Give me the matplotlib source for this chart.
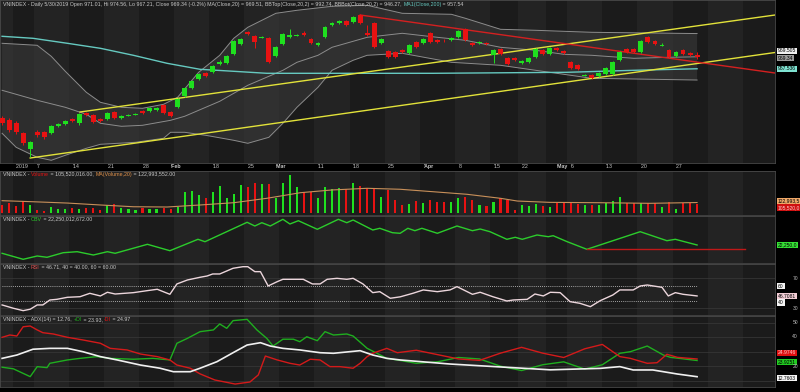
import matplotlib
matplotlib.use("Agg")
import matplotlib.pyplot as plt
import numpy as np

W, H, DPI = 800, 392, 100

# ---------------- candles, Dec 27 2018 .. May 30 2019 ----------------
opens = [908, 906, 903, 893, 877, 894, 894, 893, 900, 902, 907, 903, 913, 911, 907, 907, 914, 908, 910.5, 911.5,
         915, 915, 916, 921, 914, 919, 930, 938, 947, 953, 954, 962, 963, 972, 982, 994, 990, 988.5, 988, 970,
         982, 989, 990.5, 993, 987, 981, 989, 1001, 1003, 1005, 1004, 1011, 993, 1003, 983, 975, 974, 976, 973, 984,
         983, 993, 986, 985.5, 986, 989, 997, 983, 983, 983, 971, 977, 968, 968, 963, 964, 969, 976, 972, 978,
         975, 964, 961, 950.5, 951, 950, 952, 952, 966, 977, 977, 974, 989, 985, 980.5, 976, 970, 976, 973, 971.01]
highs = [910, 908, 905, 894, 885, 896, 895, 901, 903, 906, 908, 913, 914, 912, 908, 914, 915, 911, 912, 913,
         916, 919, 919, 922, 915, 928, 939, 946, 953, 954, 961, 966, 971, 986, 988, 995, 991, 990, 989, 980,
         993, 997, 992, 995, 988, 984, 1000, 1004, 1006, 1006, 1010, 1012, 1001, 1004, 988, 976, 975, 977, 982, 985,
         988, 994, 987, 987, 989, 996, 998, 984, 985, 984, 977, 978, 969, 969, 966, 969, 978, 977, 979, 979,
         976, 965, 962, 952, 952, 954, 959, 965, 975, 978, 978, 986, 990, 986, 983, 977, 975, 977, 974, 974.56]
lows = [901, 894, 892, 881, 869, 889, 887, 892, 899, 901, 904, 901, 910, 903, 904, 906, 907, 907, 910, 911,
        912, 914, 915, 912, 909, 918, 929, 937, 946, 949, 953, 961, 962, 971, 981, 991, 978, 988, 963, 969,
        981, 988, 990, 990, 982, 980, 988, 1000, 1002, 1000, 1003, 1002, 990, 978, 982, 968, 968, 973, 972, 978,
        982, 983, 983, 984, 985, 988, 985, 980, 982, 981, 963, 971, 961, 965, 962, 963, 968, 971, 971, 975,
        972, 957, 956, 950, 947, 949, 951, 951, 965, 973, 973, 973, 983, 981, 980, 968, 969, 971, 970, 967.21]
closes = [903, 896, 894, 883, 884, 891, 889, 900, 902, 905, 905, 912, 911, 904, 905, 913, 908, 910, 911, 912,
          913, 918, 918, 913, 910, 927, 938, 945, 952, 950, 960, 964, 970, 985, 987, 992, 984, 989, 964, 979,
          992, 991, 991, 991, 983, 983, 999, 1003, 1005, 1001, 1009, 1003, 991, 979, 987, 969, 969, 974, 981, 979,
          987, 984, 984, 985, 988, 995, 986, 981, 984, 982, 976, 972, 962, 966, 965, 968, 977, 972, 978, 976,
          973, 958, 957, 951, 948, 953, 958, 964, 974, 974, 974, 985, 984, 982, 981, 969, 974, 972, 971, 969.34]
volumes = [95, 120, 80, 135, 95, 40, 30, 70, 50, 45, 65, 55, 60, 65, 40, 90, 110, 65, 45, 40,
           65, 45, 55, 65, 45, 70, 247, 258, 209, 171, 247, 311, 171, 220, 323, 304, 350, 334, 334, 171,
           350, 437, 296, 247, 247, 171, 296, 274, 285, 274, 342, 312, 285, 274, 190, 266, 152, 95, 106, 144,
           114, 152, 133, 133, 133, 171, 190, 152, 95, 84, 133, 171, 152, 38, 95, 84, 106, 84, 68, 114,
           122, 133, 106, 95, 95, 95, 114, 144, 190, 114, 114, 122, 114, 122, 76, 133, 46, 114, 114, 105.5]  # millions

date_labels = ['2019', '7', '14', '21', '28', 'Feb', '18', '25', 'Mar', '11', '18', '25',
               'Apr', '8', '15', '22', 'May', '6', '13', '20', '27']
date_pos = [2, 5, 10, 15, 20, 24, 30, 35, 39, 45, 50, 55, 60, 65, 70, 74, 79, 81, 86, 91, 96]
week_starts = [-3, 2, 5, 10, 15, 20, 25, 30, 35, 40, 45, 50, 55, 60, 65, 70, 74, 78, 81, 86, 91, 96, 101, 106, 111]

# Bollinger bands / MA lines (sample points: index, price)
bb_up_x = [0, 5, 7, 9, 12, 14, 17, 20, 23, 25, 28, 31, 33, 35, 37, 39, 42, 47, 52, 57, 64, 66, 71, 76, 84, 99]
bb_up = [983, 981, 970, 955, 934, 924, 919, 918, 922, 929, 954, 971, 988, 999, 1006, 1013, 1016, 1020, 1021, 1013,
         1012, 1008, 997, 996, 994, 992.74]
bb_mid_x = [0, 5, 9, 12, 14, 17, 20, 24, 26, 31, 33, 35, 38, 40, 42, 45, 47, 52, 57, 62, 66, 71, 76, 80, 84, 90, 95, 99]
bb_mid = [936, 926, 919, 912, 903, 900, 901, 906, 910, 925, 933, 941, 950, 956, 964, 971, 979, 989, 993, 989,
          986, 979, 976, 972, 971, 968, 969, 969.51]
bb_lo_x = [0, 2, 5, 7, 9, 12, 14, 19, 23, 24, 26, 29, 33, 35, 38, 40, 42, 45, 47, 50, 52, 57, 64, 71, 76, 84, 99]
bb_lo = [893, 879, 869, 866, 871, 878, 882, 884, 888, 894, 894, 891, 886, 883, 889, 903, 919, 939, 956, 966,
         971, 973, 964, 961, 956, 948, 946.27]
ma200_x = [0, 4.4, 9.3, 14, 18.7, 23.5, 28.2, 33, 37.7, 42.4, 61.4, 80.5, 90, 99]
ma200 = [990, 988, 983, 978, 971, 963, 957, 955, 953, 953, 953, 954, 956, 957.54]

# trend lines drawn on the chart (start index, start price, end index, end price)
trend_yellow_hi = (11.1, 914.3, 110.1, 1011.3)
trend_yellow_lo = (4.0, 868.3, 110.1, 973.8)
trend_red = (51.0, 1011.3, 110.1, 953.3)

# volume MA(20), millions
vol_ma_x = [0, 4.4, 9.3, 14, 18.7, 23.5, 28.2, 33, 37.7, 42.5, 47, 52, 56.7, 61.4, 66.2, 71, 73.4, 78, 85, 92.3, 99]
vol_ma = [144, 132, 117, 95, 75, 72, 95, 121, 171, 235, 266, 285, 274, 246, 217, 171, 140, 125, 121, 114, 123]

# OBV, billions
obv_x = [0, 3, 5, 6.4, 8.7, 10.7, 13, 15, 16.1, 20.7, 23.9, 27.9, 28.9, 34.9, 36, 37, 38.2, 40, 41, 42.2, 44.9,
         47.9, 49.1, 50, 52.8, 53.8, 55.6, 56.7, 57.8, 58.8, 59.8, 62, 64.8, 67, 68.1, 69.5, 71.9, 73.1, 74.1,
         76.2, 77.8, 78.5, 80.5, 83.3, 90.9, 94.7, 95.9, 99]
obv = [21.42, 20.82, 21.15, 21.02, 21.48, 21.58, 21.25, 21.58, 21.42, 22.32, 21.68, 22.82, 22.58, 24.52, 24.15,
       24.48, 24.15, 24.82, 24.35, 24.68, 23.82, 24.82, 24.48, 24.75, 23.75, 23.92, 23.48, 23.42, 23.92, 23.68,
       23.92, 23.42, 24.15, 23.68, 23.85, 23.58, 22.82, 23.02, 22.82, 23.25, 23.08, 23.18, 22.58, 21.82, 23.58,
       22.68, 22.82, 22.25]
obv_support = (83.3, 105.8, 21.82)

# RSI(14)
rsi_x = [0, 1.6, 3, 4, 5, 5.8, 6.8, 7.8, 9.3, 11.1, 12.5, 14, 15, 16.1, 18.7, 20.7, 22.1, 23.9, 24.9, 26.4,
         28.2, 29.2, 30, 31, 32.9, 34.3, 35, 36, 36.8, 37.9, 39.2, 40, 41.5, 42.9, 44.2, 45.3, 46.3, 47.7, 49.1,
         50, 51.4, 52.8, 53.8, 55.3, 56.7, 58.5, 60, 62, 63.8, 64.8, 67, 68.1, 69.9, 71.9, 72.8, 74.8, 75.9,
         77.1, 78.1, 79.5, 80.9, 82.3, 83.8, 85.2, 87, 88, 89.9, 90.9, 91.9, 94, 94.9, 95.9, 97, 99]
rsi = [34.7, 30.3, 27.1, 29, 34.7, 34.7, 41.3, 42.2, 44.9, 45.7, 50.2, 46.7, 51.6, 49.3, 51.1, 53.8, 55.6, 48.9,
       62.7, 68, 71.6, 73.3, 76, 76, 83.6, 85.7, 85.7, 79.1, 79.1, 60, 65.8, 68.9, 68.9, 68.9, 62.7, 62.7, 68.9,
       70.2, 68.9, 70.2, 62.7, 51.1, 52.4, 43.6, 45.5, 50.2, 54.7, 52.4, 54.7, 59.1, 48.9, 51.6, 45.7, 40, 41.3,
       42.2, 49.3, 46.7, 51.6, 51.1, 39.1, 36.9, 32.4, 40.4, 48, 54.7, 54.7, 60, 61.3, 58.2, 46.7, 51.1, 48.9, 46.71]

# ADX(14), +DI, -DI
adx_x = [0, 2.1, 4.4, 6.8, 9.3, 11.5, 14, 16.4, 19.7, 22.5, 24.4, 26.8, 28.2, 30.6, 32.9, 34.9, 36.8, 38.2, 40,
         42.4, 45.3, 47.2, 51, 52.8, 54.8, 56.7, 63.8, 70.9, 78.1, 85.2, 88, 89.9, 92.7, 96.2, 99]
adx = [25.4, 27.7, 31.7, 32.3, 32.3, 30, 26.6, 24.3, 20.8, 18.6, 16.2, 16.2, 18.6, 23.1, 29.3, 34.6, 36.2, 33.9,
       32.3, 31.2, 29.3, 28.9, 30.7, 27.7, 25.4, 24.3, 21.5, 19.5, 17.5, 18.5, 19.7, 17.4, 17.4, 14.6, 12.76]
mdi_x = [0, 1.1, 2.1, 3, 4, 5, 5.8, 7.3, 9.3, 11.5, 14, 15.4, 17.8, 19.7, 22.1, 23.9, 24.9, 26.8, 28.2, 30.3,
         33.2, 35.3, 36.5, 37.5, 39.2, 41, 42.4, 43.9, 45.3, 46.7, 48.1, 50, 51, 52, 52.8, 54.8, 56.3, 59, 62,
         65, 68, 71, 74, 77, 80, 83, 85.5, 88, 89.5, 91.9, 93.3, 94.7, 96.2, 99]
mdi = [39.9, 41.5, 40.8, 47.2, 47.7, 45, 43.1, 42.2, 39.9, 38.1, 35.8, 32.3, 31.2, 28.4, 26.6, 24.3, 20.8, 18.6,
       14.7, 10.5, 7.7, 9.1, 14, 27, 24.3, 22, 20.8, 24.8, 24.3, 19.7, 19.7, 18.6, 22, 26.6, 28.9, 32.3, 29.3,
       31, 28, 25, 24, 29, 33, 29, 26, 32, 35, 26.6, 25.4, 22, 22.4, 28.2, 26.1, 24.97]
pdi_x = [0, 1.6, 4, 5, 6.4, 6.8, 9.3, 11.1, 13.5, 15.4, 18.7, 21.5, 23.9, 24.9, 26.4, 28.2, 30.1, 31, 32, 32.9,
         34.9, 36.3, 37.7, 38.6, 40, 41.5, 42.4, 43.4, 44.9, 46, 47.2, 49.1, 50, 52, 53.4, 54.8, 56.3, 59, 62,
         65, 68, 71, 74, 77, 80, 83, 85.5, 88, 89.5, 91.9, 94.2, 95.2, 99]
pdi = [19.3, 18.2, 12.8, 19.7, 19, 22, 24.3, 25.4, 26.6, 25.4, 24.8, 25.4, 24.3, 35.8, 39.2, 43.8, 45, 49.1, 46.1,
       51.4, 52.3, 45, 39.2, 33.9, 38.6, 38.6, 36.9, 40.3, 37.6, 43.8, 41.5, 42.2, 40.8, 32.3, 28.9, 25.4, 24.3,
       22, 23, 26, 25, 20, 17, 21, 23, 18, 21, 28.9, 30, 33.9, 27.7, 26.1, 23.93]

# ---------------- drawing ----------------
BG = '#1b1b1b'
BG2 = '#232323'
TXT = '#c8c8c8'
GREEN = '#1fe01f'
RED = '#e81212'
plt.rcParams['font.family'] = ['Liberation Sans', 'DejaVu Sans']

fig = plt.figure(figsize=(W / DPI, H / DPI), dpi=DPI, facecolor='black')


def px_rect(x0, y0, x1, y1):
    return [x0 / W, 1 - y1 / H, (x1 - x0) / W, (y1 - y0) / H]


def setup(ax, ylim):
    ax.set_facecolor(BG)
    ax.set_xlim(-0.3, 110.1)
    ax.set_ylim(*ylim)
    ax.set_xticks([])
    ax.set_yticks([])
    for s in ax.spines.values():
        s.set_color('#4a4a4a')
        s.set_linewidth(0.6)
    for k in range(0, len(week_starts) - 1, 2):
        ax.axvspan(week_starts[k] - 0.5, week_starts[k + 1] - 0.5, color=BG2, lw=0, zorder=0)


renderer = fig.canvas.get_renderer()


def color_text(ax, parts, size=3.75, x=0.004, y=0.985):
    # pieces of one line of text, each with its own colour
    fx, fy = ax.transAxes.transform((x, y))
    for s, c in parts:
        t = fig.text(fx / W, fy / H, s, color=c, fontsize=size, va='top', ha='left')
        fx += t.get_window_extent(renderer).width


def tag(y_px, text, fc, tc='black', size=3.6):
    fig.text(778 / W, 1 - y_px / H, text, color=tc, fontsize=size, va='center', ha='left',
             bbox=dict(boxstyle='square,pad=0.18', fc=fc, ec='none'))


def axis_num(y_px, text):
    fig.text(798 / W, 1 - y_px / H, text, color='#bbbbbb', fontsize=3.6, va='center', ha='right')


x = np.arange(len(closes))
o = np.array(opens)
c = np.array(closes)
cols = [GREEN if cc >= oo else RED for oo, cc in zip(o, c)]

# ---- main price panel
ax = fig.add_axes(px_rect(0, 0, 775, 163))
setup(ax, (863.3, 1026.3))
ax.fill(np.concatenate([bb_up_x, bb_lo_x[::-1]]), np.concatenate([bb_up, bb_lo[::-1]]),
        color='#3c3c3c', alpha=0.55, lw=0, zorder=1)
for bx, by in ((bb_up_x, bb_up), (bb_mid_x, bb_mid), (bb_lo_x, bb_lo)):
    ax.plot(bx, by, color='#8c8c8c', lw=0.7, zorder=2)
ax.plot(ma200_x, ma200, color='#66c9c0', lw=1.0, zorder=2)
for (x0, y0, x1, y1), col in ((trend_yellow_hi, '#e2e23a'), (trend_yellow_lo, '#e2e23a'), (trend_red, '#d42020')):
    ax.plot([x0, x1], [y0, y1], color=col, lw=1.0, zorder=3)
ax.vlines(x, lows, highs, color=cols, lw=0.7, zorder=4)
body_lo = np.minimum(o, c)
body_h = np.maximum(np.abs(c - o), 0.8)
ax.bar(x, body_h, bottom=body_lo, width=0.7, color=cols, zorder=5)
color_text(ax, [('VNINDEX - Daily 5/30/2019 Open 971.01, Hi 974.56, Lo 967.21, Close 969.34 (-0.2%) '
                 'MA(Close,20) = 969.51, BBTop(Close,20,2) = 992.74, BBBot(Close,20,2) = 946.27, ', TXT),
                ('MA1(Close,200)', '#66c9c0'), (' = 957.54', TXT)])
tag(51, '969.505', '#eeeeee')
tag(58, '969.34', '#9a9a9a')
tag(69, '957.536', '#7fe3d2')

# date strip
for p, lab in zip(date_pos, date_labels):
    xf = ax.transData.transform((p, 0))[0]
    fig.text(xf / W, 1 - 167 / H, "'" + lab, color=TXT, fontsize=3.8, va='center', ha='left',
             fontweight='bold' if not lab.isdigit() else 'normal')

# ---- volume panel
axv = fig.add_axes(px_rect(0, 171, 775, 215))
setup(axv, (-19, 482))
axv.bar(x, volumes, width=0.3, color=cols, zorder=3)
axv.plot(vol_ma_x, vol_ma, color='#c8905a', lw=0.8, zorder=4)
color_text(axv, [('VNINDEX - ', TXT), ('Volume', RED), (' = 105,520,016.00, ', TXT),
                 ('MA(Volume,20)', '#e0914a'), (' = 122,993,552.00', TXT)])
tag(201, '122,993,5', '#f0a868')
tag(207.5, '105,520,0', '#d01010', tc='#ffcccc')

# ---- OBV panel
axo = fig.add_axes(px_rect(0, 216, 775, 263))
setup(axo, (20.45, 25.15))
axo.plot(obv_x, obv, color='#2ccc2c', lw=1.0, zorder=3)
axo.plot([obv_support[0], obv_support[1]], [obv_support[2]] * 2, color='#c01818', lw=1.0, zorder=3)
color_text(axo, [('VNINDEX - ', TXT), ('OBV', '#2ccc2c'), (' = 22,250,012,672.00', TXT)])
tag(245, '22,250,0', '#35e035')

# ---- RSI panel
axr = fig.add_axes(px_rect(0, 264, 775, 315))
setup(axr, (21.3, 89.3))
for lv in (70, 30):
    axr.axhline(lv, color='#353535', lw=0.6, zorder=1)
for lv in (60, 40):
    axr.plot([0, 99], [lv, lv], color='#d0d0d0', lw=0.6, ls=(0, (1, 1.5)), zorder=2)
axr.plot(rsi_x, rsi, color='#ecd6dc', lw=1.0, zorder=3)
color_text(axr, [('VNINDEX - ', TXT), ('RSI', '#e05050'), (' = 46.71, 40 = 40.00, 60 = 60.00', TXT)])
axis_num(278, '70')
tag(286, '60', '#f4f4f4')
tag(296, '46.7081', '#f2cdd5')
tag(302.5, '40', '#f4f4f4')
axis_num(308.5, '30')

# ---- ADX panel
axa = fig.add_axes(px_rect(0, 316, 775, 387))
setup(axa, (5.66, 54.6))
for lv in (10, 20, 30, 40, 50):
    axa.axhline(lv, color='#353535', lw=0.6, zorder=1)
axa.plot(pdi_x, pdi, color='#1fae1f', lw=1.0, zorder=3)
axa.plot(mdi_x, mdi, color='#d41a1a', lw=1.0, zorder=3)
axa.plot(adx_x, adx, color='#f0f0f0', lw=1.2, zorder=4)
color_text(axa, [('VNINDEX - ADX(14) = 12.76, ', TXT), ('+DI', '#1fae1f'), (' = 23.93, ', TXT),
                 ('-DI', RED), (' = 24.97', TXT)])
axis_num(323, '50')
axis_num(337, '40')
tag(353, '24.9746', '#e01010', tc='#ffcccc')
tag(362, '23.9251', '#22cc22')
axis_num(367, '20')
tag(378, '12.7603', '#f4f4f4')

fig.savefig('out.png', dpi=DPI, facecolor='black')
